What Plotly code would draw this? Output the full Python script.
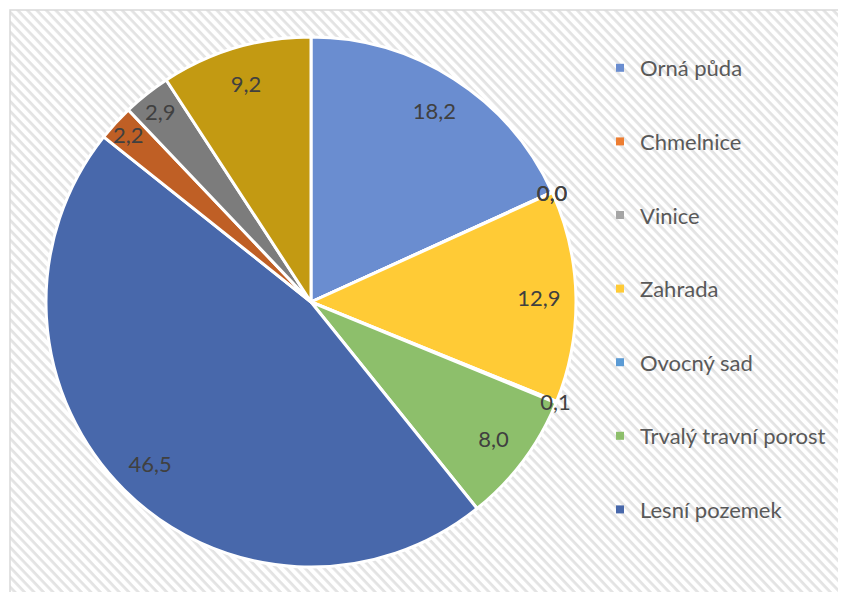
import plotly.graph_objects as go

# land use shares (%), clockwise from 12 o'clock
categories = ["Orná půda", "Chmelnice", "Vinice", "Zahrada", "Ovocný sad",
              "Trvalý travní porost", "Lesní pozemek", "Vodní plocha",
              "Zastavěná plocha", "Ostatní plocha"]
values = [18.2, 0.02, 0.01, 12.9, 0.1, 8.0, 46.5, 2.2, 2.9, 9.2]
colors = ["#6a8dd0", "#ed7d31", "#a5a5a5", "#ffcb36", "#5b9bd5",
          "#8dbf6b", "#4868ab", "#bf5f25", "#7c7c7c", "#c39a12"]
legend_items = 7  # legend in the original is cut after 7 entries

OFF = 8  # body margin of the html page
W, H = 846 - OFF, 592 - OFF
font = "Lato"


def px(x):
    return (x - OFF) / W


def py(y):
    return 1 - (y - OFF) / H


hatch = ("data:image/svg+xml;utf8,"
         "<svg xmlns='http://www.w3.org/2000/svg' width='900' height='600'>"
         "<defs><pattern id='p' width='6' height='6' patternUnits='userSpaceOnUse' "
         "patternTransform='rotate(45)'>"
         "<rect width='6' height='6' fill='white'/>"
         "<rect width='6' height='2.4' fill='%23e3e3e3'/></pattern></defs>"
         "<rect width='900' height='600' fill='url(%23p)'/></svg>")

dom_x = [px(46), px(576)]
dom_y = [py(567), py(37)]

fig = go.Figure()

# the slices
fig.add_trace(go.Pie(
    labels=categories, values=values, sort=False, direction="clockwise",
    rotation=0, textinfo="none", showlegend=False,
    marker=dict(colors=colors, line=dict(color="white", width=3)),
    domain=dict(x=dom_x, y=dom_y),
))

# transparent ring on top, only to place the data labels near the rim
fig.add_trace(go.Pie(
    labels=categories, values=values, sort=False, direction="clockwise",
    rotation=0, hole=0.72, showlegend=False, hoverinfo="skip",
    texttemplate="%{value:.1f}", textposition="inside",
    insidetextorientation="horizontal",
    textfont=dict(family=font, size=22, color="#404040"),
    marker=dict(colors=["rgba(0,0,0,0)"] * len(values), line=dict(width=0)),
    domain=dict(x=dom_x, y=dom_y),
))

# legend entries
for name, c in zip(categories[:legend_items], colors[:legend_items]):
    fig.add_trace(go.Scatter(
        x=[None], y=[None], mode="markers", name=name, legendgroup=name,
        marker=dict(symbol="square", size=8, color=c),
    ))

fig.update_layout(
    width=W, height=H,
    margin=dict(l=0, r=0, t=0, b=0),
    paper_bgcolor="white", plot_bgcolor="rgba(0,0,0,0)",
    separators=", ",
    uniformtext=dict(minsize=22, mode="show"),
    xaxis=dict(visible=False), yaxis=dict(visible=False),
    legend=dict(
        x=px(600), xanchor="left", y=py(47), yanchor="top",
        font=dict(family=font, size=22, color="#595959"),
        tracegroupgap=42, traceorder="grouped",
        bgcolor="rgba(255,255,255,0)",
    ),
    images=[dict(source=hatch, xref="paper", yref="paper",
                 x=px(10), y=py(10), sizex=1.2, sizey=1.2,
                 xanchor="left", yanchor="top", sizing="stretch", layer="below")],
    shapes=[dict(type="rect", xref="paper", yref="paper",
                 x0=px(10), y0=-0.1, x1=1.1, y1=py(10),
                 line=dict(color="#d9d9d9", width=1.5), layer="below")],
)

fig.write_html("out.html")
